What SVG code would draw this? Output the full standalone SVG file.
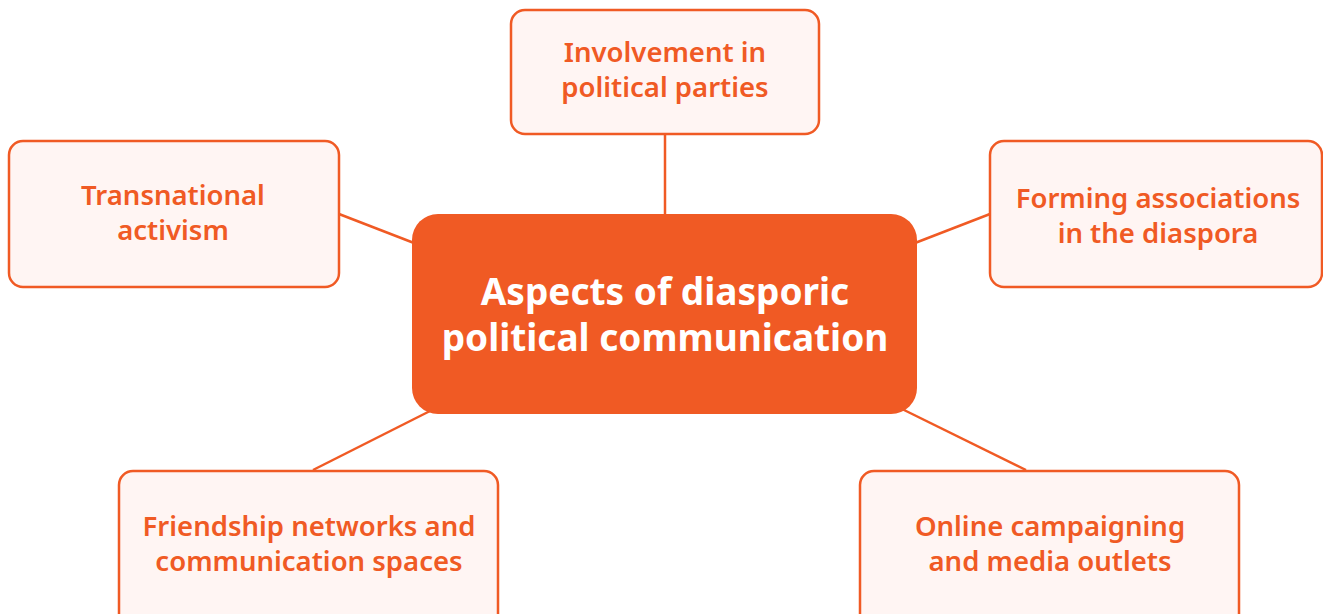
<svg xmlns="http://www.w3.org/2000/svg" width="1323" height="614" viewBox="0 0 1323 614">
<style>
.box{fill:#FFF5F3;stroke:#F05A24;stroke-width:2.5}
.lbl{font-family:"Noto Sans","Liberation Sans",sans-serif;font-weight:600;font-size:27.5px;fill:#F05A24;text-anchor:middle}
.ctr{font-family:"Noto Sans","Liberation Sans",sans-serif;font-weight:700;font-size:37px;fill:#FFFFFF;text-anchor:middle}
.con{stroke:#F05A24;stroke-width:2.5;fill:none}
</style>
<rect width="1323" height="614" fill="#FFFFFF"/>
<g id="connectors">
<line class="con" x1="665" y1="134" x2="665" y2="216"/>
<line class="con" x1="339" y1="214" x2="414" y2="243"/>
<line class="con" x1="915" y1="243" x2="990" y2="214"/>
<line class="con" x1="432" y1="410" x2="313" y2="470"/>
<line class="con" x1="900" y1="408" x2="1026" y2="470"/>
</g>
<g id="center">
<rect x="412" y="214" width="505" height="200" rx="26" fill="#F05A24"/>
<text class="ctr" x="665" y="305">Aspects of diasporic</text>
<text class="ctr" x="665" y="351">political communication</text>
</g>
<g id="top">
<rect class="box" x="511" y="10" width="308" height="124" rx="14"/>
<text class="lbl" x="665" y="62">Involvement in</text>
<text class="lbl" x="665" y="97">political parties</text>
</g>
<g id="left">
<rect class="box" x="9" y="141" width="330" height="146" rx="14"/>
<text class="lbl" x="173" y="205">Transnational</text>
<text class="lbl" x="173" y="240">activism</text>
</g>
<g id="right">
<rect class="box" x="990" y="141" width="332" height="146" rx="14"/>
<text class="lbl" x="1158" y="208">Forming associations</text>
<text class="lbl" x="1158" y="243">in the diaspora</text>
</g>
<g id="bottom-left">
<rect class="box" x="119" y="471" width="379" height="160" rx="14"/>
<text class="lbl" x="309" y="536">Friendship networks and</text>
<text class="lbl" x="309" y="571">communication spaces</text>
</g>
<g id="bottom-right">
<rect class="box" x="860" y="471" width="379" height="160" rx="14"/>
<text class="lbl" x="1050" y="536">Online campaigning</text>
<text class="lbl" x="1050" y="571">and media outlets</text>
</g>
</svg>
